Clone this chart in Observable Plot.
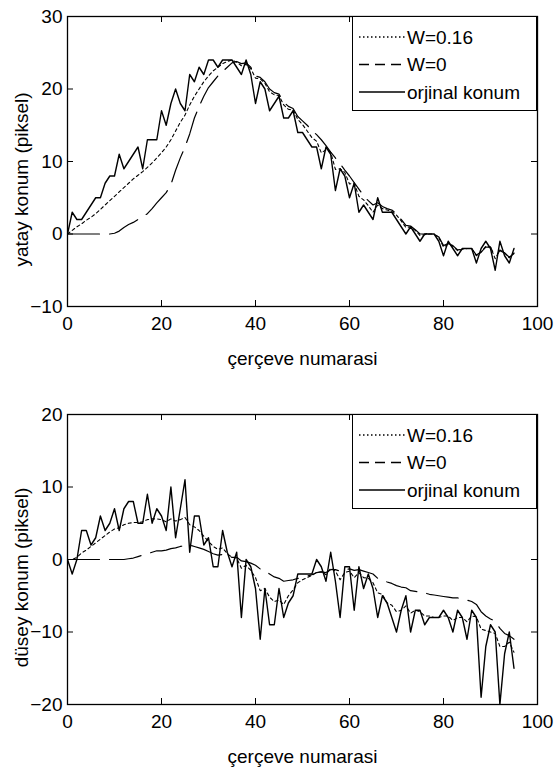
<!DOCTYPE html>
<html><head><meta charset="utf-8">
<script src="https://cdn.jsdelivr.net/npm/d3@7"></script>
<script src="https://cdn.jsdelivr.net/npm/@observablehq/plot@0.6"></script>
<style>
body{margin:0;background:#fff;}
#wrap{position:relative;width:554px;height:771px;font-family:"Liberation Sans",Arial,sans-serif;background:#fff;}
#wrap svg{display:block;}
.leg{position:absolute;box-sizing:border-box;border:1.5px solid #000;background:#fff;}
</style></head><body><div id="wrap"></div>
<script>
const xTicks = [0, 20, 40, 60, 80, 100];
const yTicksTop = [-10, 0, 10, 20, 30];
const yTicksBottom = [-20, -10, 0, 10, 20];
const legendLabels = ["W=0.16", "W=0", "orjinal konum"];
const xTitle = "çerçeve numarasi";
const yTitleTop = "yatay konum (piksel)";
const yTitleBottom = "düsey konum (piksel)";

// yatay (horizontal) position per frame
const yatayOrjinal = [0,3,2,2,3,4,5,5,7,8, 8,11,9,10,11,12,9,13,13,13, 17,15,18,20,18,17,22,21,23,22, 24,24,23,24,24,24,23,22,24,22, 18,21,20,17,18,19,16,16,17,14, 14,13,12,12,9,12,11,6,9,8, 5,7,3,4,3,2,5,3,3,3, 2,1,0,1,0,-1,0,0,0,-1, -3,-1,-2,-3,-2,-2,-2,-4,-2,-1, -2,-5,-1,-3,-4,-2];
const yatayW016 = [0,0.5,1,1.4,1.9,2.3,2.8,3.4,4,4.6, 5.2,5.8,6.4,7,7.6,8.1,8.6,9.2,9.8,10.5, 11.2,12,13,14.2,15.4,16.4,17.8,19,20,21, 21.8,22.5,23,23.5,23.8,24,23.7,23.2,23.4,22.8, 21.5,21.4,20.8,19.6,19.2,19.1,17.8,17.2,17.1,15.8, 15.1,14.2,13.3,12.8,11.2,11.6,11.3,8.9,9,8.5, 6.9,7,5.2,4.7,3.9,3,4,3.5,3.3,3.1, 2.6,1.8,0.9,1,0.5,-0.2,-0.1,0,0,-0.5, -1.8,-1.4,-1.7,-2.3,-2.1,-2,-2,-3,-2.5,-1.7, -1.8,-3.4,-2.2,-2.6,-3.3,-2.6];
const yatayW0 = [0,0,0,0,0,0,0,0,0,0, 0.1,0.4,0.9,1.3,1.6,2,2.4,2.8,3.5,4.3, 5,5.7,6.8,8.8,10.5,12,13.8,16,17.6,19, 20.2,21,21.8,22.4,23,23.6,23.8,23.5,23.6,23, 21.8,21.6,21,20,19.5,19.3,18.2,17.6,17.3,16.2, 15.6,15,14.3,13.7,13,12.2,11.3,10.5,9.7,8.8, 8,7.1,6.2,5.3,4.6,4,4.3,3.8,3.5,3.3, 2.8,2,1.2,1.1,0.6,0,0,0.1,0,-0.4, -1.6,-1.3,-1.6,-2.2,-2.1,-2,-2,-2.9,-2.5,-1.8, -1.8,-3.2,-2.3,-2.6,-3.2,-2.7];

// düsey (vertical) position per frame
const duseyOrjinal = [0,-2,0,4,4,2,3,6,4,5, 7,4,7,8,8,5,5,9,5,7, 6,4,10,3,7,11,1,6,6,2, 3,-1,-1,4,1,-1,1,-8,0,-1, -4,-11,-4,-9,-9,-4,-8,-6,-5,-2, -2,-2,-2,0,-1,-3,1,-3,-8,-1, -1,-7,-1,-4,-2,-4,-8,-5,-6,-8, -10,-7,-5,-10,-7,-7,-9,-8,-8,-8, -7,-8,-10,-7,-8,-11,-7,-8,-19,-12, -9,-10,-20,-13,-10,-15];
const duseyW016 = [0,0,0.3,0.9,1.3,1.8,2.3,2.8,3.3,3.8, 4.2,4.4,4.8,5,5.1,5.1,5.2,5.5,5.6,5.6, 5.5,5.2,5.6,5.3,5.5,5.8,4.8,4.5,4,3.2, 2.5,1.8,1.4,1.6,0.8,0.3,0.2,-1.2,-0.8,-1.5, -2.5,-4.3,-4,-5.2,-5.8,-5.6,-6.2,-5,-4.2,-3.2, -2.8,-2.5,-2.2,-1.8,-1.7,-2.1,-1.2,-1.6,-2.8,-1.8, -1.6,-2.5,-1.8,-2.5,-2.6,-3.2,-4.6,-4.8,-6,-6.3, -7.2,-7,-6.4,-7.4,-7,-7.2,-7.8,-7.8,-8,-8, -7.8,-7.8,-8.4,-8,-8,-8.6,-7.8,-7.9,-9.6,-9.8, -10,-10.2,-12,-12,-11.4,-12.8];
const duseyW0 = [0,0,0,0,0,0,0,0,0,0, 0,0,0,0.1,0.2,0.4,0.6,0.8,1,1.2, 1.2,1.3,1.5,1.6,1.8,1.9,2,1.8,1.6,1.4, 1.1,0.8,0.6,0.7,0.5,0.3,0.3,-0.2,-0.3,-0.5, -0.8,-1.3,-1.5,-2,-2.4,-2.6,-3,-2.9,-2.8,-2.6, -2.5,-2.3,-2.1,-1.8,-1.7,-1.8,-1.4,-1.4,-1.6,-1.4, -1.3,-1.5,-1.4,-1.6,-1.8,-2,-2.6,-2.8,-3.1,-3.3, -3.6,-3.8,-3.9,-4.3,-4.4,-4.5,-4.6,-4.8,-4.9,-5, -5.1,-5.2,-5.3,-5.3,-5.4,-5.6,-5.8,-6.2,-7.2,-7.8, -8.2,-8.5,-9.5,-10.2,-10.5,-11];

const FONT = "Liberation Sans, Arial, sans-serif";
const W = 554, ML = 67, MR = 17;

function panel({orig, w16, w0, yDomain, yTicks, yTitle, height, marginTop, marginBottom}) {
  const fh = height - marginTop - marginBottom;
  const fw = W - ML - MR;
  const fx = (d, i) => i;
  return Plot.plot({
    width: W, height, marginLeft: ML, marginRight: MR, marginTop, marginBottom,
    style: {fontFamily: FONT, fontSize: "19px", color: "#000", background: "#fff", overflow: "visible"},
    x: {domain: [0, 100], label: null},
    y: {domain: yDomain, label: null},
    marks: [
      Plot.line(w0, {x: fx, y: d => d, stroke: "#000", strokeWidth: 1.2, strokeDasharray: "32,10", clip: true}),
      Plot.line(w16, {x: fx, y: d => d, stroke: "#000", strokeWidth: 1.1, strokeDasharray: "3,3", clip: true}),
      Plot.line(orig, {x: fx, y: d => d, stroke: "#000", strokeWidth: 1.4, clip: true}),
      Plot.frame({stroke: "#000", strokeWidth: 1.3}),
      Plot.tickX(xTicks, {x: d => d, insetTop: fh - 6, stroke: "#000"}),
      Plot.tickX(xTicks, {x: d => d, insetBottom: fh - 6, stroke: "#000"}),
      Plot.tickY(yTicks, {y: d => d, insetRight: fw - 6, stroke: "#000"}),
      Plot.tickY(yTicks, {y: d => d, insetLeft: fw - 6, stroke: "#000"}),
      Plot.axisX(xTicks, {anchor: "bottom", tickSize: 0, tickPadding: 10, label: null, fontSize: 19}),
      Plot.axisY(yTicks, {anchor: "left", tickSize: 0, tickPadding: 5, label: null, fontSize: 19}),
      Plot.text([xTitle], {frameAnchor: "bottom", dy: 52, lineAnchor: "middle", textAnchor: "middle", fontSize: 19, fill: "#000"}),
      Plot.text([yTitle], {frameAnchor: "left", dx: -46, dy: 18, rotate: -90, textAnchor: "middle", lineAnchor: "middle", fontSize: 19, fill: "#000"})
    ]
  });
}

function legend(top) {
  const div = document.createElement("div");
  div.className = "leg";
  Object.assign(div.style, {left: "352px", top: top + "px", width: (W - MR - 352) + "px", height: "95px"});
  const svg = d3.create("svg").attr("width", W - MR - 352).attr("height", 95)
    .style("font-family", FONT).style("font-size", "19px");
  const dashes = ["1.5,2.5", "10,6", null];
  legendLabels.forEach((lab, i) => {
    const y = 20 + i * 27.5;
    const ln = svg.append("line").attr("x1", 6).attr("x2", 52).attr("y1", y).attr("y2", y)
      .attr("stroke", "#000").attr("stroke-width", 1.3);
    if (dashes[i]) ln.attr("stroke-dasharray", dashes[i]);
    svg.append("text").attr("x", 54).attr("y", y).attr("dy", "0.35em").text(lab);
  });
  div.appendChild(svg.node());
  return div;
}

const wrap = document.getElementById("wrap");
wrap.appendChild(panel({orig: yatayOrjinal, w16: yatayW016, w0: yatayW0, yDomain: [-10, 30], yTicks: yTicksTop, yTitle: yTitleTop, height: 390, marginTop: 16, marginBottom: 84}));
wrap.appendChild(panel({orig: duseyOrjinal, w16: duseyW016, w0: duseyW0, yDomain: [-20, 20], yTicks: yTicksBottom, yTitle: yTitleBottom, height: 381, marginTop: 24, marginBottom: 67}));
wrap.appendChild(legend(16));
wrap.appendChild(legend(414));
</script></body></html>
